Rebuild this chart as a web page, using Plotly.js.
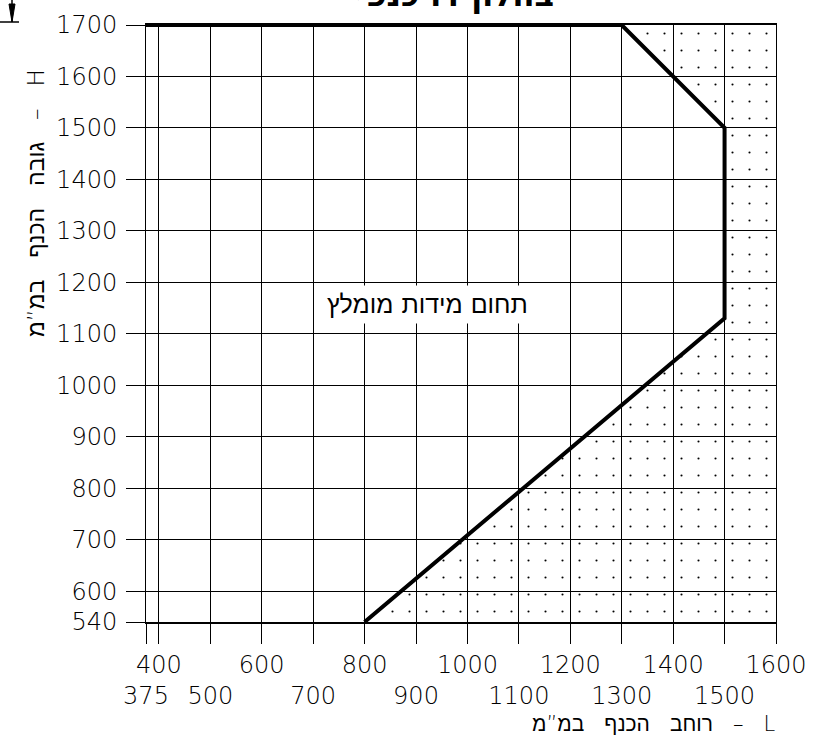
<!DOCTYPE html>
<html>
<head>
<meta charset="utf-8">
<script src="https://cdn.plot.ly/plotly-3.0.1.min.js"></script>
<style>html,body{margin:0;padding:0;background:#fff;}#chart{width:827px;height:743px;}</style>
</head>
<body>
<div id="chart"></div>
<script>
// ---- data ----
const xTicksUpper = [400, 600, 800, 1000, 1200, 1400, 1600];
const xTicksLower = [375, 500, 700, 900, 1100, 1300, 1500];
const yTicks = [540, 600, 700, 800, 900, 1000, 1100, 1200, 1300, 1400, 1500, 1600, 1700];
// recommended range boundary (L, H)
const boundaryL = [375, 1300, 1500, 1500, 800];
const boundaryH = [1700, 1700, 1500, 1130, 540];
// dotted (outside) region
const outsideL = [1300, 1600, 1600, 800, 1500, 1500, 1300];
const outsideH = [1700, 1700, 540, 540, 1130, 1500, 1700];
const xRange = [375, 1600];
const yRange = [540, 1700];
const regionLabel = 'תחום מידות מומלץ';
const xTitle = 'רוחב הכנף במ”מ – L';
const yTitle = 'גובה הכנף במ”מ – H';
const chartTitle = 'בחלון דו כנפי';

const FONT = 'DejaVu Sans, Liberation Sans, sans-serif';
const M = {l: 146, r: 51, t: 25, b: 121};
const W = 827, H = 743;
const pw = W - M.l - M.r, ph = H - M.t - M.b;
const px = v => (v - M.l) / pw;          // pixel x -> paper
const py = v => 1 - (v - M.t) / ph;      // pixel y -> paper

// combined tick list: upper row on first line, lower row on second line
const xTickVals = xTicksLower.concat(xTicksUpper).sort((a, b) => a - b);
const xTickText = xTickVals.map(v => xTicksUpper.includes(v) ? String(v) : '\u00a0<br>' + v);
const wide = s => s.replace(/ /g, '\u00a0\u00a0\u00a0');

const traces = [
  {
    x: outsideL, y: outsideH, mode: 'none', fill: 'toself',
    fillcolor: 'rgba(0,0,0,0)',
    fillpattern: {shape: '.', size: 17, solidity: 0.012, fgcolor: '#000', bgcolor: 'rgba(0,0,0,0)'},
    hoverinfo: 'skip', showlegend: false
  },
  {
    x: boundaryL, y: boundaryH, mode: 'lines',
    line: {color: '#000', width: 4, shape: 'linear'},
    cliponaxis: false, showlegend: false, hoverinfo: 'skip'
  }
];

const tickFont = {family: FONT, size: 24, color: '#000', weight: 200};
const axisCommon = {
  showgrid: true, gridwidth: 1, gridcolor: '#000',
  zeroline: false, ticks: 'outside', tickcolor: '#000', tickwidth: 1,
  tickfont: tickFont, tickmode: 'array', fixedrange: true, showspikes: false
};

const layout = {
  width: W, height: H, margin: M,
  paper_bgcolor: '#fff', plot_bgcolor: '#fff',
  showlegend: false, hovermode: false, dragmode: false,
  xaxis: Object.assign({}, axisCommon, {
    range: xRange, tickvals: xTickVals, ticktext: xTickText, tickangle: 0,
    ticklen: 20, ticklabelstandoff: 0,
    showline: true, linecolor: '#000', linewidth: 2, mirror: true
  }),
  yaxis: Object.assign({}, axisCommon, {
    range: yRange, tickvals: yTicks, ticktext: yTicks.map(String),
    ticklen: 19, ticklabelstandoff: 4,
    showline: true, linecolor: '#000', linewidth: 1, mirror: true
  }),
  annotations: [
    {x: 922, y: 1156, xref: 'x', yref: 'y', text: regionLabel, showarrow: false,
     font: {family: FONT, size: 25, color: '#000', weight: 200}, bgcolor: '#fff', borderpad: 4},
    {x: px(778), y: py(724), xref: 'paper', yref: 'paper', xanchor: 'right', yanchor: 'middle',
     text: wide(xTitle), showarrow: false, font: {family: FONT, size: 21, color: '#000', weight: 200}},
    {x: px(36), y: py(203), xref: 'paper', yref: 'paper', xanchor: 'center', yanchor: 'middle',
     textangle: -90, text: wide(yTitle), showarrow: false, font: {family: FONT, size: 23, color: '#000', weight: 200}},
    {x: px(455), y: py(16), xref: 'paper', yref: 'paper', xanchor: 'center', yanchor: 'bottom',
     text: '<b>' + chartTitle + '</b>', showarrow: false, font: {family: FONT, size: 32, color: '#000'}}
  ],
  shapes: [
    {type: 'line', xref: 'paper', yref: 'paper', x0: px(12), x1: px(12), y0: py(0), y1: py(22), line: {color: '#000', width: 1.5}},
    {type: 'line', xref: 'paper', yref: 'paper', x0: px(0), x1: px(19), y0: py(22), y1: py(22), line: {color: '#000', width: 1.5}},
    {type: 'path', xref: 'paper', yref: 'paper',
     path: `M ${px(9)} ${py(4)} L ${px(15)} ${py(4)} L ${px(12)} ${py(22)} Z`,
     fillcolor: '#000', line: {color: '#000', width: 1}}
  ]
};

Plotly.newPlot('chart', traces, layout, {displayModeBar: false, scrollZoom: false});
</script>
</body>
</html>
